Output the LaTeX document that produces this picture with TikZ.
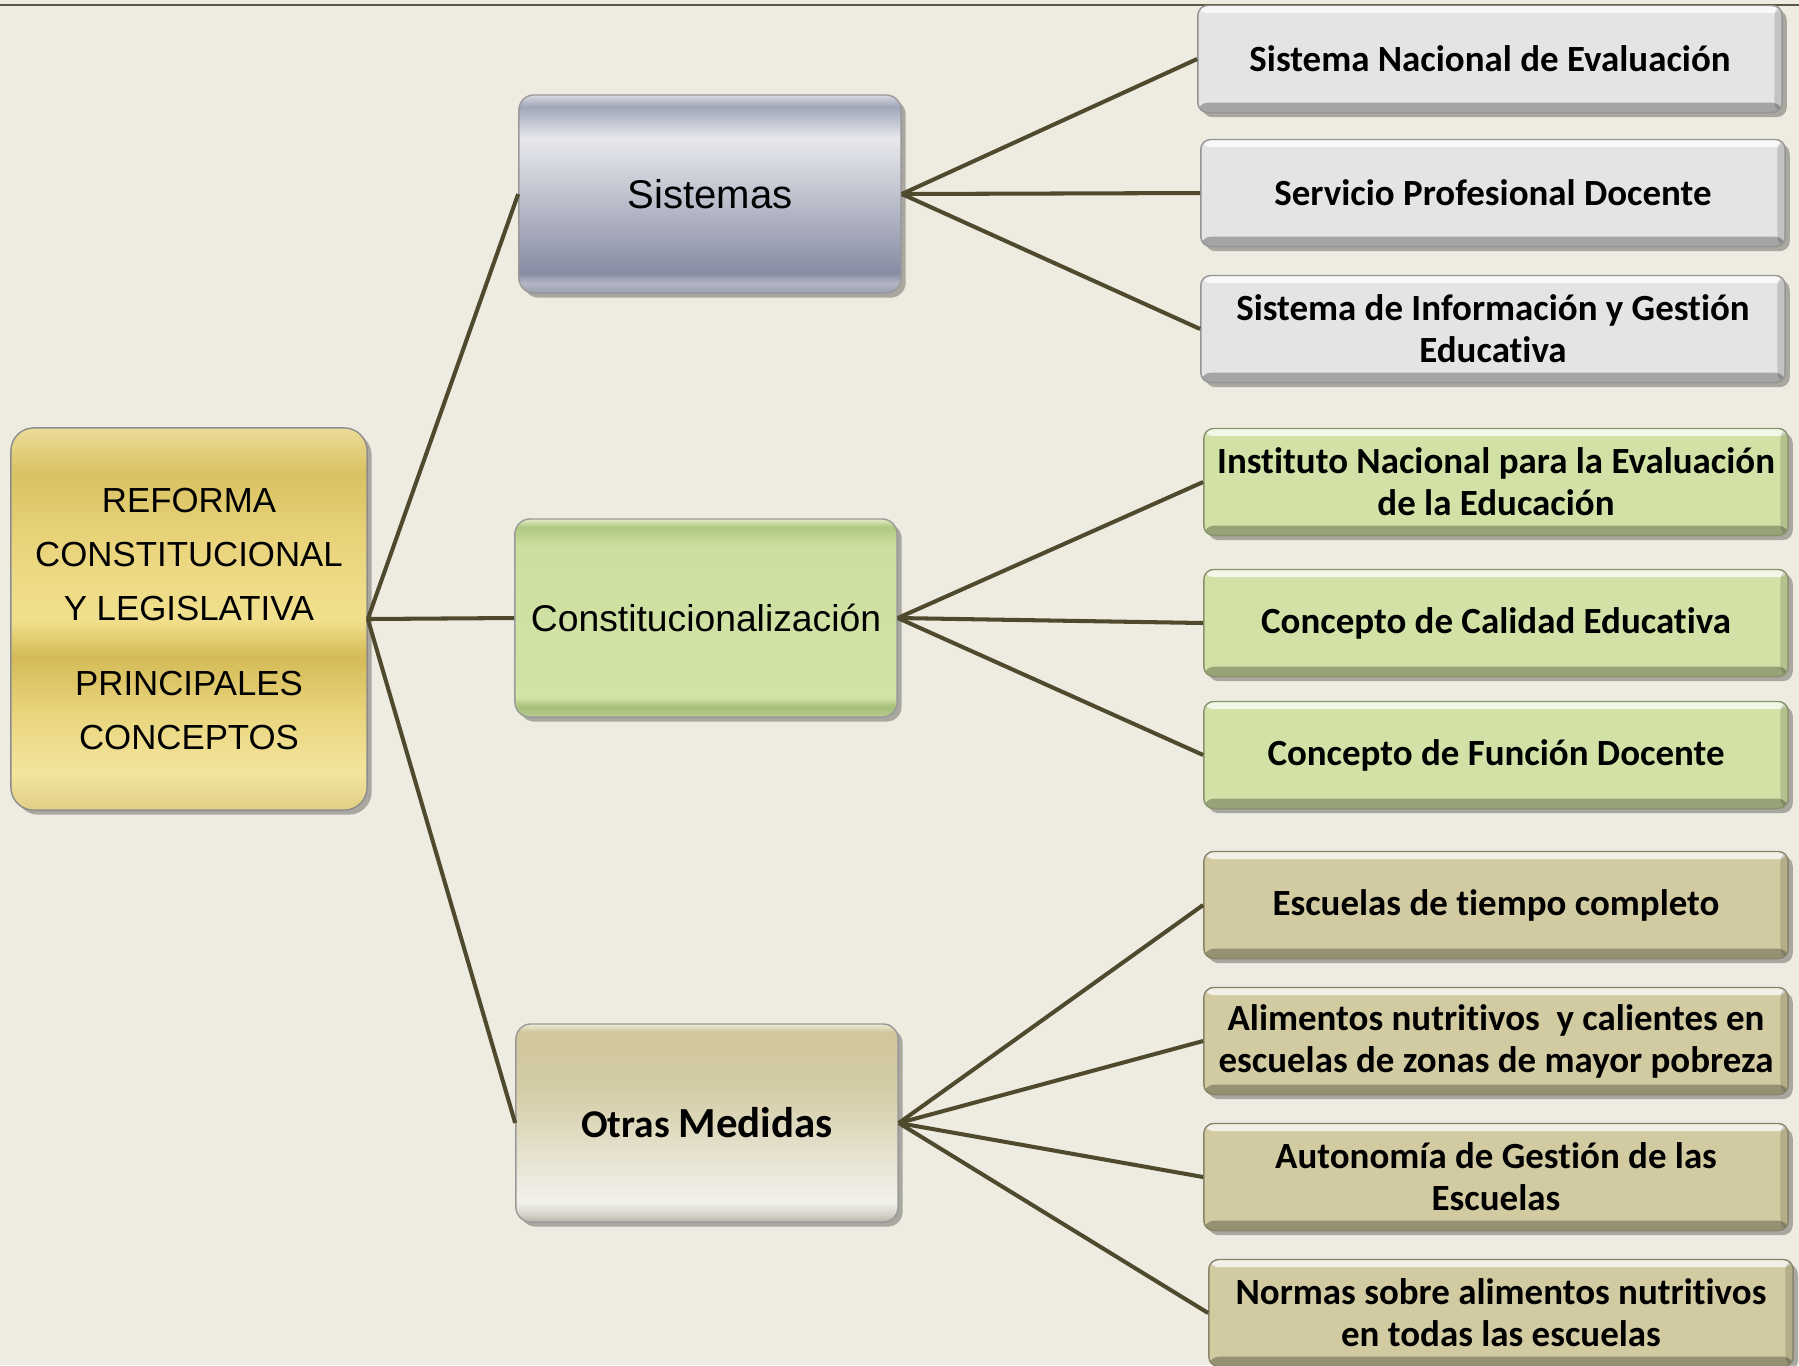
\documentclass[tikz,border=0pt]{standalone}
\usepackage{fontspec}
\setmainfont{Carlito}[RawFeature={-liga;-clig;-calt;-dlig}]
\newfontfamily\arial{Liberation Sans}
\usepackage{xcolor}
\usepackage{tikz}
\usetikzlibrary{shadows}
\definecolor{bg}{HTML}{EEECE1}
\definecolor{rulec}{HTML}{5A5842}
\definecolor{linkc}{HTML}{4F4A2E}
\definecolor{leafgray}{HTML}{E4E4E4}
\definecolor{leafgreen}{HTML}{D2E1A6}
\definecolor{leafkhaki}{HTML}{D2CAA1}
% shading stops
\definecolor{sA}{HTML}{9A9EB0}\definecolor{sB}{HTML}{B3B7C4}\definecolor{sC}{HTML}{878CA3}
\definecolor{sD}{HTML}{E8E9ED}\definecolor{sE}{HTML}{A0A6B8}\definecolor{sF}{HTML}{D6D8E0}
\definecolor{cA}{HTML}{B8CC90}\definecolor{cB}{HTML}{A6BF7A}\definecolor{cC}{HTML}{D1E3A6}
\definecolor{cD}{HTML}{CCDFA0}\definecolor{cE}{HTML}{B0C883}\definecolor{cF}{HTML}{E4EEC6}
\definecolor{oA}{HTML}{B9B6A8}\definecolor{oB}{HTML}{D5D3C8}\definecolor{oC}{HTML}{F2F1EC}
\definecolor{oD}{HTML}{D3CBA3}\definecolor{oE}{HTML}{D0C79C}\definecolor{oF}{HTML}{EFEBD6}
\definecolor{gA}{HTML}{E0CF85}\definecolor{gB}{HTML}{F3E59D}\definecolor{gC}{HTML}{EAD57E}
\definecolor{gD}{HTML}{D5BB58}\definecolor{gE}{HTML}{F1E08E}\definecolor{gF}{HTML}{E9D47C}
\definecolor{gG}{HTML}{D9C262}\definecolor{gH}{HTML}{EBDC98}
\pgfdeclareverticalshading{sistshade}{100bp}{color(0bp)=(sA); color(25bp)=(sA); color(27.5bp)=(sB);
  color(30bp)=(sC); color(64bp)=(sD); color(72bp)=(sE); color(75bp)=(sF); color(100bp)=(sF)}
\pgfdeclareverticalshading{constshade}{100bp}{color(0bp)=(cA); color(25bp)=(cA); color(27.5bp)=(cB);
  color(30bp)=(cC); color(68bp)=(cD); color(73bp)=(cE); color(75bp)=(cF); color(100bp)=(cF)}
\pgfdeclareverticalshading{otrashade}{100bp}{color(0bp)=(oA); color(25bp)=(oA); color(27bp)=(oB);
  color(30bp)=(oC); color(60bp)=(oD); color(73bp)=(oE); color(75bp)=(oF); color(100bp)=(oF)}
\pgfdeclareverticalshading{rootshade}{100bp}{color(0bp)=(gA); color(25bp)=(gA); color(30bp)=(gB);
  color(37.5bp)=(gC); color(45bp)=(gD); color(50bp)=(gE); color(60bp)=(gF); color(69bp)=(gG);
  color(75bp)=(gH); color(100bp)=(gH)}
\tikzset{
  link/.style={draw=linkc, line width=1.15pt},
  boxshadow/.style={drop shadow={shadow xshift=1.3pt, shadow yshift=-1.3pt, opacity=0.4, fill=black!75}},
  rootbox/.style={rounded corners=6.5pt, minimum width=3.56cm, minimum height=3.82cm, align=center,
    draw=black!45, line width=0.4pt, shading=rootshade, boxshadow,
    font=\arial\fontsize{9.9}{15.3}\selectfont},
  midbox/.style={rounded corners=4.3pt, minimum width=3.82cm, minimum height=1.98cm, align=center,
    draw=black!40, line width=0.4pt, boxshadow},
  leaf/.style={rounded corners=2.8pt, minimum width=5.84cm, minimum height=1.07cm, align=center,
    inner sep=1pt, draw=#1!65!black, line width=0.4pt, fill=#1, boxshadow,
    font=\bfseries\fontsize{10.5}{11.9}\selectfont,
    path picture={
      \fill[white, opacity=0.75] (path picture bounding box.north west) rectangle ([yshift=-2.2pt]path picture bounding box.north east);
      \fill[black, opacity=0.28] ([yshift=2.8pt]path picture bounding box.south west) rectangle (path picture bounding box.south east);
      \fill[black, opacity=0.14] ([xshift=-2.2pt]path picture bounding box.north east) rectangle (path picture bounding box.south east);
    }}
}

\begin{document}
\begin{tikzpicture}[x=0.01cm, y=-0.01cm]
  \useasboundingbox (0,0) rectangle (1799,1365);
  \fill[bg] (0,0) rectangle (1799,1365);
  \draw[rulec, line width=0.5pt] (0,5) -- (1799,5);

  % root and the three branches
  \node[rootbox] (root) at (189,619) {REFORMA\\CONSTITUCIONAL\\Y LEGISLATIVA\\[6.2pt]PRINCIPALES\\CONCEPTOS};
  \node[midbox, shading=sistshade] (sist) at (710,194) {\arial\fontsize{11.4}{13}\selectfont Sistemas};
  \node[midbox, shading=constshade] (const) at (706,618) {\arial\fontsize{10.6}{13}\selectfont Constitucionalización};
  \node[midbox, shading=otrashade] (otras) at (707,1123)
    {\bfseries\fontsize{11.2}{13}\selectfont Otras {\fontsize{12.2}{13}\selectfont Medidas}};

  % leaves
  \node[leaf=leafgray] (sne) at (1490,59) {Sistema Nacional de Evaluación};
  \node[leaf=leafgray] (spd) at (1493,193) {Servicio Profesional Docente};
  \node[leaf=leafgray] (sige) at (1493,329) {Sistema de Información y Gestión\\Educativa};

  \node[leaf=leafgreen] (inee) at (1496,482) {Instituto Nacional para la Evaluación\\de la Educación};
  \node[leaf=leafgreen] (calidad) at (1496,623) {Concepto de Calidad Educativa};
  \node[leaf=leafgreen] (funcion) at (1496,755) {Concepto de Función Docente};

  \node[leaf=leafkhaki] (tiempo) at (1496,905) {Escuelas de tiempo completo};
  \node[leaf=leafkhaki] (alim) at (1496,1041) {Alimentos nutritivos\ \ y calientes en\\escuelas de zonas de mayor pobreza};
  \node[leaf=leafkhaki] (auto) at (1496,1177) {Autonomía de Gestión de las\\Escuelas};
  \node[leaf=leafkhaki] (normas) at (1501,1313) {Normas sobre alimentos nutritivos\\en todas las escuelas};

  % connectors
  \foreach \m in {sist,const,otras}
    \draw[link] (root.east) -- (\m.west);
  \foreach \l in {sne,spd,sige}
    \draw[link] (sist.east) -- (\l.west);
  \foreach \l in {inee,calidad,funcion}
    \draw[link] (const.east) -- (\l.west);
  \foreach \l in {tiempo,alim,auto,normas}
    \draw[link] (otras.east) -- (\l.west);
\end{tikzpicture}
\end{document}
